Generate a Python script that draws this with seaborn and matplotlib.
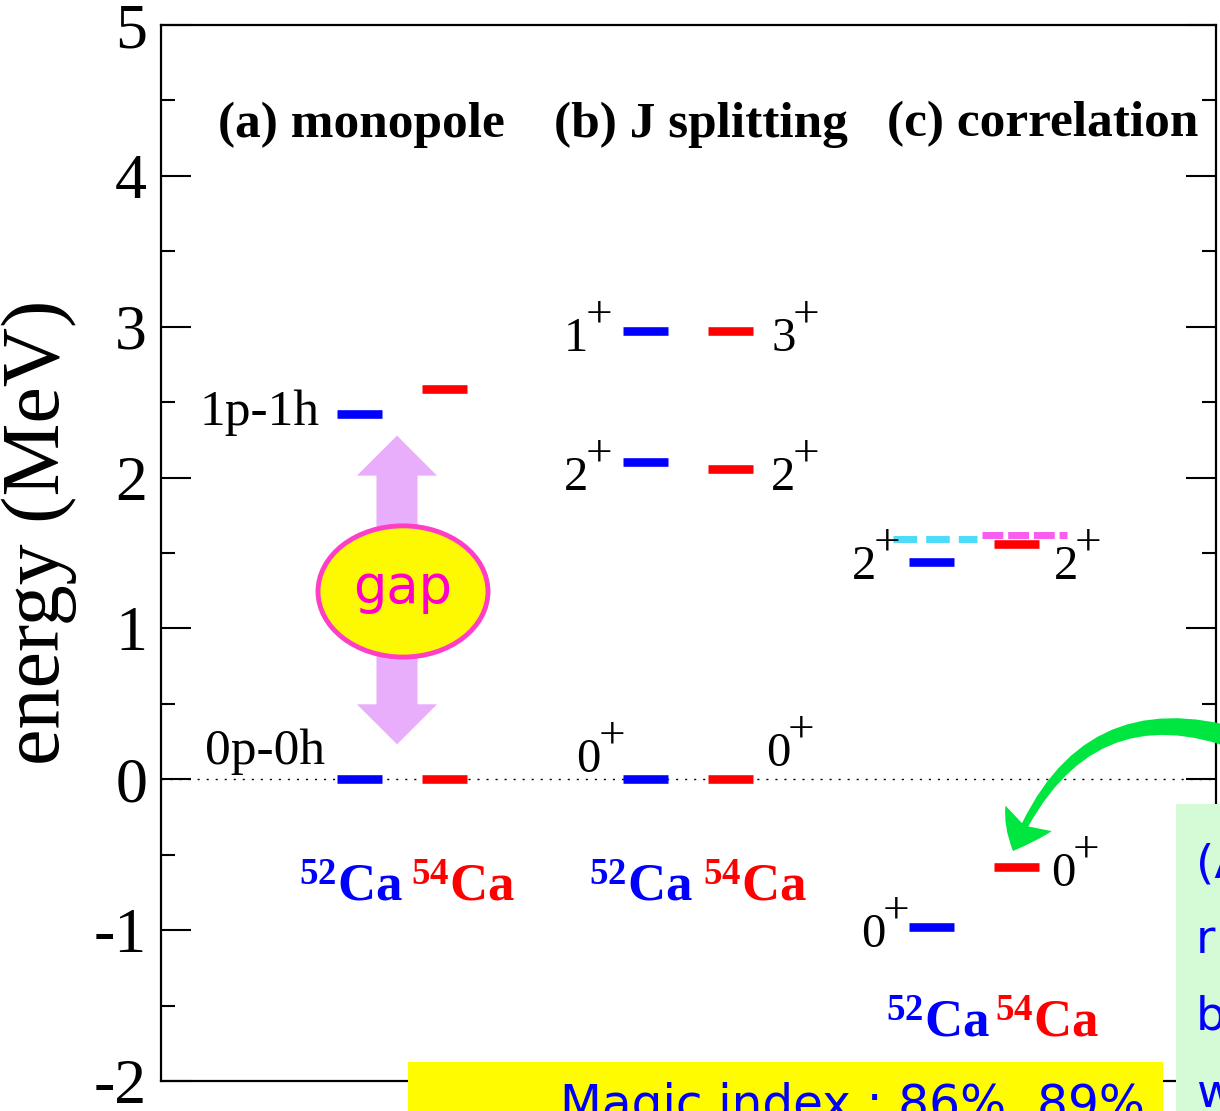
import numpy as np
import pandas as pd
import seaborn as sns
import matplotlib
matplotlib.use("Agg")
import matplotlib.pyplot as plt
from matplotlib.patches import Ellipse, Rectangle
from matplotlib.ticker import AutoMinorLocator

# ---- level energies (MeV) ----
panels = ["(a) monopole", "(b) J splitting", "(c) correlation"]
levels_52 = {  # 52Ca
    "a": [0.00, 2.42],          # 0p-0h, 1p-1h
    "b": [0.00, 2.10, 2.97],    # 0+, 2+, 1+
    "c": [-0.98, 1.44],         # 0+, 2+
}
levels_54 = {  # 54Ca
    "a": [0.00, 2.59],          # 0p-0h, 1p-1h
    "b": [0.00, 2.06, 2.97],    # 0+, 2+, 3+
    "c": [-0.58, 1.56],         # 0+, 2+
}
unperturbed_2p = [1.59, 1.62]   # reference 2+ lines in (c): 52Ca, 54Ca
labels_a = ["0p-0h", "1p-1h"]
labels_b_52 = ["0", "2", "1"]
labels_b_54 = ["0", "2", "3"]
labels_c = ["0", "2"]
magic_text = "Magic index : 86%, 89%"

# ---- layout ----
W, H = 1220, 1111
sns.set_style("ticks")
plt.rcParams["font.family"] = ["Liberation Serif", "DejaVu Serif"]
plt.rcParams["mathtext.fontset"] = "custom"
plt.rcParams["mathtext.rm"] = "Liberation Serif"
plt.rcParams["mathtext.bf"] = "Liberation Serif:bold"
plt.rcParams["mathtext.it"] = "Liberation Serif:italic"
plt.rcParams["axes.unicode_minus"] = False
for key in ["text.color", "axes.labelcolor", "xtick.color", "ytick.color",
            "axes.edgecolor"]:
    plt.rcParams[key] = "black"

fig = plt.figure(figsize=(W / 100, H / 100), dpi=100)
ax = fig.add_axes([161 / W, 1 - 1081 / H, 1055 / W, 1056 / H])
ax.set_xlim(0, 1055)
ax.set_ylim(-2, 5)

blue_x = np.array([198.5, 484.5, 770.0])
red_x = blue_x + 85
half = 22.5
keys = ["a", "b", "c"]

rows = []
lid = 0
for i, k in enumerate(keys):
    for e in levels_52[k]:
        rows += [dict(x=blue_x[i] - half, E=e, nuc="52Ca", lvl=lid),
                 dict(x=blue_x[i] + half, E=e, nuc="52Ca", lvl=lid)]
        lid += 1
    for e in levels_54[k]:
        rows += [dict(x=red_x[i] - half, E=e, nuc="54Ca", lvl=lid),
                 dict(x=red_x[i] + half, E=e, nuc="54Ca", lvl=lid)]
        lid += 1
df = pd.DataFrame(rows)

ax.axhline(0, color="black", lw=1.0, ls=(0, (1.5, 5)), zorder=1)

sns.lineplot(data=df, x="x", y="E", hue="nuc", units="lvl", estimator=None,
             palette={"52Ca": "#0000ff", "54Ca": "#ff0000"}, lw=6.2,
             solid_capstyle="butt", legend=False, sort=False, ax=ax, zorder=3)

ref_df = pd.DataFrame({"x": [732, 816, 821, 906],
                       "E": [unperturbed_2p[0]] * 2 + [unperturbed_2p[1]] * 2,
                       "nuc": ["52Ca"] * 2 + ["54Ca"] * 2})
sns.lineplot(data=ref_df[ref_df.nuc == "52Ca"], x="x", y="E", color="#4bdcf9",
             lw=5.0, ls=(0, (3.4, 1.3)), estimator=None, ax=ax, zorder=2)
sns.lineplot(data=ref_df[ref_df.nuc == "54Ca"], x="x", y="E", color="#f95cf0",
             lw=5.0, ls=(0, (3.0, 0.7)), estimator=None, ax=ax, zorder=2)

# ---- axes styling ----
ax.set_xlabel("")
ax.set_xticks([])
ax.set_yticks(range(-2, 6))
ax.yaxis.set_minor_locator(AutoMinorLocator(2))
ax.tick_params(axis="y", which="major", direction="in", length=21.5, width=1.5,
               right=True, labelsize=46, pad=10, colors="black")
ax.tick_params(axis="y", which="minor", direction="in", length=10, width=1.5,
               right=True)
for s in ax.spines.values():
    s.set_linewidth(1.6)
    s.set_color("black")
ax.set_ylabel("energy (MeV)", fontsize=59)
ax.yaxis.set_label_coords(-0.08, 0.52)

# ---- panel titles ----
for xt, t in zip([200, 540, 882], panels):
    ax.text(xt, 4.26, t, fontsize=37, fontweight="bold", ha="center",
            va="baseline")

lab_fs = 37
dig_fs = 35
plus_fs = 34
plus_w = 19  # horizontal room taken by the superscript plus (x units = px)


def jlabel(x, y, j, ha):
    """Spin-parity label: digit plus a raised '+'."""
    xd = x - plus_w if ha == "right" else x
    d = ax.text(xd, y, j, fontsize=dig_fs, ha=ha, va="baseline")
    ax.annotate("+", xy=(1, 0), xycoords=d, xytext=(-2, 33),
                textcoords="offset points", fontsize=plus_fs,
                ha="left", va="center")


# (a) configuration labels
ax.text(blue_x[0] - half - 17, levels_52["a"][1] - 0.07, labels_a[1],
        fontsize=lab_fs, ha="right", va="baseline")
ax.text(blue_x[0] - half - 12, levels_52["a"][0] + 0.10, labels_a[0],
        fontsize=lab_fs, ha="right", va="baseline")

# (b) spin labels
jlabel(blue_x[1] - half - 3, levels_52["b"][0] + 0.05, labels_b_52[0], "right")
jlabel(red_x[1] + half + 13, levels_54["b"][0] + 0.09, labels_b_54[0], "left")
jlabel(blue_x[1] - half - 16, levels_52["b"][1] - 0.18, labels_b_52[1], "right")
jlabel(red_x[1] + half + 18, levels_52["b"][1] - 0.18, labels_b_54[1], "left")
jlabel(blue_x[1] - half - 16, levels_52["b"][2] - 0.13, labels_b_52[2], "right")
jlabel(red_x[1] + half + 18, levels_54["b"][2] - 0.13, labels_b_54[2], "left")

# (c) spin labels
jlabel(blue_x[2] - half - 13, levels_52["c"][1] - 0.11, labels_c[1], "right")
jlabel(red_x[2] + half + 15, levels_52["c"][1] - 0.11, labels_c[1], "left")
jlabel(blue_x[2] - half - 4, levels_52["c"][0] - 0.13, labels_c[0], "right")
jlabel(red_x[2] + half + 13, levels_54["c"][0] - 0.13, labels_c[0], "left")

# isotope names
iso_fs = 38
iso_right = [242, 532, 829]
iso_left = [250, 542, 834]
for i, yb in enumerate([-0.81, -0.81, -1.71]):
    ax.text(iso_right[i], yb, r"$\mathbf{{}^{52}Ca}$",
            color="#0000ff", fontsize=iso_fs, ha="right", va="baseline")
    ax.text(iso_left[i], yb, r"$\mathbf{{}^{54}Ca}$",
            color="#ff0000", fontsize=iso_fs, ha="left", va="baseline")

# ---- gap arrow and bubble ----
ax_cx, ell_cy = 236, 1.245
pink = "#e8adfb"
ax.arrow(ax_cx, ell_cy, 0, 2.278 - ell_cy, width=41, head_width=80,
         head_length=0.265, length_includes_head=True, color=pink, lw=0,
         zorder=4)
ax.arrow(ax_cx, ell_cy, 0, 0.232 - ell_cy, width=41, head_width=80,
         head_length=0.265, length_includes_head=True, color=pink, lw=0,
         zorder=4)
ax.add_patch(Ellipse((242, ell_cy), 170, 0.87, facecolor="#fcf900",
                     edgecolor="#ff3ec8", lw=3.5, zorder=5))
ax.text(242, ell_cy + 0.02, "gap", fontsize=38, color="#ff00cc",
        family="DejaVu Sans", ha="center", va="center", zorder=6)

# ---- curved green arrow ----
ax.annotate("", xy=(1013, H - 851), xytext=(1262, H - 748),
            xycoords="figure pixels", textcoords="figure pixels",
            arrowprops=dict(arrowstyle="fancy,head_length=26,head_width=38,tail_width=17",
                            connectionstyle="arc3,rad=0.5", color="#00e640",
                            lw=0, shrinkA=0, shrinkB=0, mutation_scale=1),
            annotation_clip=False, zorder=7)

# ---- text boxes ----
fig.add_artist(Rectangle((408 / W, 0), 755 / W, 49 / H,
                         transform=fig.transFigure, facecolor="#fffb00",
                         edgecolor="none", zorder=8))
fig.text(1145 / W, -9 / H, magic_text, fontsize=35, color="#0000ff",
         family="DejaVu Sans", ha="right", va="baseline", zorder=9)

fig.add_artist(Rectangle((1176 / W, 0), 60 / W, (H - 804) / H,
                         transform=fig.transFigure, facecolor="#d4fad6",
                         edgecolor="none", zorder=8))
for txt, yb in zip(["(A", "r", "b", "w"], [878, 953, 1030, 1107]):
    fig.text(1196 / W, (H - yb) / H, txt, fontsize=34, color="#0000ff",
             family="DejaVu Sans", ha="left", va="baseline", zorder=9)

fig.savefig("out.png", dpi=100)
